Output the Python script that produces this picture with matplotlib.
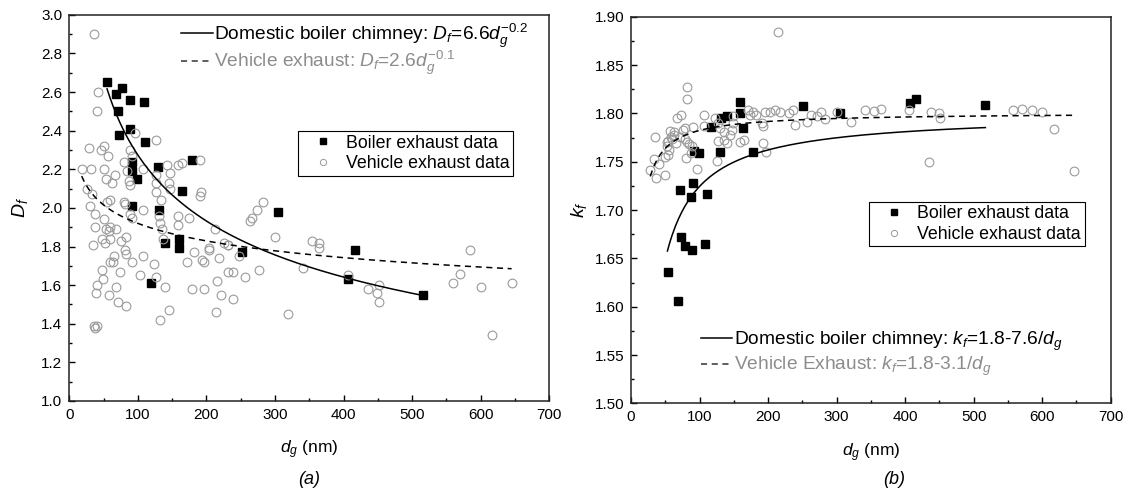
import numpy as np
import matplotlib
matplotlib.use('Agg')
import matplotlib.pyplot as plt
from matplotlib.lines import Line2D
from matplotlib.ticker import MultipleLocator, FormatStrFormatter

plt.rcParams['font.family'] = ['Liberation Sans', 'DejaVu Sans']
plt.rcParams['mathtext.fontset'] = 'custom'
plt.rcParams['mathtext.rm'] = 'Liberation Sans'
plt.rcParams['mathtext.it'] = 'Liberation Sans:italic'
plt.rcParams['mathtext.bf'] = 'Liberation Sans:bold'

GRAY_TEXT = '#8c8c8c'
CIRCLE_EDGE = '#9a9a9a'

# ---- (a) fractal dimension D_f vs d_g ----
boiler_d_a = [55, 68, 77, 88, 109, 71, 88, 73, 110, 92, 91, 99, 130, 179, 164, 92, 131, 305,
              160, 140, 160, 119, 252, 417, 407, 516]
boiler_D_a = [2.65, 2.59, 2.62, 2.56, 2.55, 2.50, 2.41, 2.38, 2.34, 2.24, 2.19, 2.15, 2.21, 2.25,
              2.09, 2.01, 1.99, 1.98, 1.84, 1.82, 1.79, 1.61, 1.77, 1.78, 1.63, 1.55]

vehicle_d_a = [36, 42, 41, 28, 50, 46, 57, 96, 126, 18, 32, 51, 67, 53, 62, 80, 84, 88, 91, 87,
               88, 108, 127, 143, 147, 159, 165, 191, 126, 146, 126, 134, 147, 192, 190, 26, 33,
               30, 37, 55, 59, 79, 81, 88, 91, 108, 131, 132, 135, 159, 159, 175, 50, 54, 58, 38,
               59, 68, 47, 59, 76, 83, 137, 212, 263, 267, 273, 283, 300, 226, 232, 203, 34, 52,
               81, 83, 65, 59, 63, 48, 74, 91, 107, 124, 49, 41, 39, 58, 68, 71, 83, 103, 127,
               140, 145, 132, 36, 40, 38, 171, 182, 204, 193, 196, 218, 215, 221, 196, 179, 214,
               231, 238, 239, 256, 248, 277, 231, 319, 341, 354, 364, 364, 407, 436, 448, 452,
               452, 559, 570, 585, 601, 616, 646]
vehicle_D_a = [2.90, 2.60, 2.50, 2.31, 2.32, 2.30, 2.27, 2.39, 2.35, 2.20, 2.20, 2.20, 2.17, 2.15,
               2.13, 2.24, 2.19, 2.30, 2.27, 2.14, 2.12, 2.20, 2.17, 2.22, 2.18, 2.22, 2.23, 2.25,
               2.13, 2.13, 2.08, 2.04, 2.10, 2.08, 2.06, 2.10, 2.07, 2.01, 1.97, 2.03, 2.04, 2.03,
               2.02, 1.97, 1.95, 1.99, 1.96, 1.92, 1.89, 1.96, 1.91, 1.95, 1.94, 1.89, 1.88, 1.90,
               1.90, 1.89, 1.84, 1.84, 1.83, 1.85, 1.84, 1.89, 1.93, 1.95, 1.99, 2.03, 1.85, 1.82,
               1.81, 1.79, 1.81, 1.82, 1.78, 1.76, 1.75, 1.72, 1.72, 1.68, 1.67, 1.72, 1.75, 1.71,
               1.63, 1.60, 1.56, 1.55, 1.59, 1.51, 1.49, 1.65, 1.64, 1.59, 1.47, 1.42, 1.39, 1.39,
               1.38, 1.72, 1.77, 1.78, 1.73, 1.72, 1.74, 1.62, 1.55, 1.58, 1.58, 1.46, 1.67, 1.67,
               1.53, 1.64, 1.75, 1.68, 1.81, 1.45, 1.69, 1.83, 1.82, 1.79, 1.65, 1.58, 1.56, 1.60,
               1.51, 1.61, 1.66, 1.78, 1.59, 1.34, 1.61]

# power-law fits D_f = a * d_g^b
fit_boiler_a = (6.71, -0.235, 55, 516)
fit_vehicle_a = (2.65, -0.070, 18, 645)

# ---- (b) fractal prefactor k_f vs d_g ----
boiler_d_b = [159, 159, 140, 131, 164, 116, 92, 99, 130, 178, 71, 91, 87, 111, 73, 78, 89, 108,
              54, 68, 416, 407, 517, 251, 305]
boiler_k_b = [1.8115, 1.801, 1.7976, 1.795, 1.785, 1.786, 1.761, 1.759, 1.760, 1.760, 1.721,
              1.728, 1.714, 1.717, 1.672, 1.663, 1.659, 1.665, 1.636, 1.606, 1.8146, 1.8104,
              1.8087, 1.8076, 1.8007]

vehicle_d_b = [214, 82, 81, 73, 67, 35, 28, 33, 37, 49, 41, 50, 54, 52, 56, 54, 58, 62, 57, 66,
               72, 76, 79, 79, 81, 84, 80, 89, 91, 96, 87, 107, 106, 123, 127, 130, 135, 127,
               135, 140, 144, 147, 149, 126, 149, 159, 165, 171, 174, 178, 183, 191, 192, 192,
               197, 195, 203, 210, 218, 230, 236, 239, 257, 262, 271, 277, 283, 300, 321, 342,
               354, 364, 406, 437, 449, 451, 435, 558, 570, 585, 600, 617, 647, 60, 63, 52]
vehicle_k_b = [1.884, 1.827, 1.815, 1.798, 1.795, 1.776, 1.742, 1.753, 1.733, 1.736, 1.748,
               1.755, 1.757, 1.766, 1.762, 1.772, 1.776, 1.781, 1.782, 1.769, 1.776, 1.783,
               1.785, 1.774, 1.771, 1.768, 1.754, 1.766, 1.786, 1.743, 1.759, 1.798, 1.787,
               1.795, 1.790, 1.785, 1.781, 1.772, 1.773, 1.769, 1.778, 1.783, 1.790, 1.751,
               1.797, 1.771, 1.773, 1.804, 1.798, 1.802, 1.798, 1.790, 1.787, 1.769, 1.760,
               1.802, 1.802, 1.804, 1.802, 1.800, 1.804, 1.788, 1.791, 1.798, 1.797, 1.802,
               1.794, 1.802, 1.791, 1.804, 1.803, 1.805, 1.804, 1.802, 1.801, 1.795, 1.750,
               1.804, 1.805, 1.804, 1.802, 1.784, 1.740, 1.774, 1.778, 1.770]

# fits k_f = a - c / d_g
fit_boiler_b = (1.800, 7.54, 53, 517)
fit_vehicle_b = (1.801, 1.85, 28, 645)

TICK_FS = 11
MARK_LEG_FS = 12.8
LINE_LEG_FS = 13.8


def style_axes(ax, ylim, ymajor, yminor, yfmt):
    ax.set_xlim(0, 700)
    ax.set_ylim(*ylim)
    ax.xaxis.set_major_locator(MultipleLocator(100))
    ax.xaxis.set_minor_locator(MultipleLocator(50))
    ax.yaxis.set_major_locator(MultipleLocator(ymajor))
    ax.yaxis.set_minor_locator(MultipleLocator(yminor))
    ax.yaxis.set_major_formatter(FormatStrFormatter(yfmt))
    ax.tick_params(which='both', direction='in', top=False, right=False, width=1.0,
                   labelsize=TICK_FS)
    ax.tick_params(which='major', length=4.5)
    ax.tick_params(which='minor', length=2.5)
    ax.tick_params(axis='x', pad=5)
    ax.tick_params(axis='y', pad=5)
    for sp in ax.spines.values():
        sp.set_linewidth(1.1)
        sp.set_color('#222222')


def scatter_sets(ax, bd, by, vd, vy):
    ax.plot(bd, by, 's', color='black', markersize=5.8, zorder=3)
    ax.plot(vd, vy, 'o', markerfacecolor='none', markeredgecolor=CIRCLE_EDGE,
            markeredgewidth=0.8, markersize=6.3, zorder=4)


def marker_legend(ax, anchor):
    handles = [Line2D([], [], ls='none', marker='s', color='black', markersize=5),
               Line2D([], [], ls='none', marker='o', markerfacecolor='none',
                      markeredgecolor=CIRCLE_EDGE, markeredgewidth=0.7, markersize=4.5)]
    leg = ax.legend(handles, ['Boiler exhaust data', 'Vehicle exhaust data'],
                    loc='upper left', bbox_to_anchor=anchor, borderaxespad=0,
                    fontsize=MARK_LEG_FS, frameon=True, fancybox=False, framealpha=1,
                    edgecolor='black', borderpad=0.2, handlelength=2.4,
                    handletextpad=0.1, labelspacing=0.2)
    leg.get_frame().set_linewidth(0.8)
    return leg


def line_legend(ax, labels, anchor, spacing):
    handles = [Line2D([], [], color='black', lw=1.1),
               Line2D([], [], color='#333333', lw=1.1, ls=(0, (4, 3)))]
    leg = ax.legend(handles, labels, loc='upper left', bbox_to_anchor=anchor,
                    borderaxespad=0, borderpad=0, frameon=False, fontsize=LINE_LEG_FS,
                    handlelength=1.65, handletextpad=0.08, labelspacing=spacing)
    leg.get_texts()[1].set_color(GRAY_TEXT)
    return leg


fig = plt.figure(figsize=(11.31, 4.95), dpi=100)
ax1 = fig.add_axes([0.0613, 0.190, 0.4244, 0.780])
ax2 = fig.add_axes([0.558, 0.185, 0.4241, 0.781])

# panel (a)
style_axes(ax1, (1.0, 3.0), 0.2, 0.1, '%.1f')
scatter_sets(ax1, boiler_d_a, boiler_D_a, vehicle_d_a, vehicle_D_a)
a, b, x0, x1 = fit_boiler_a
xs = np.linspace(x0, x1, 200)
ax1.plot(xs, a * xs ** b, color='black', lw=1.1, zorder=5)
a, b, x0, x1 = fit_vehicle_a
xs = np.linspace(x0, x1, 200)
ax1.plot(xs, a * xs ** b, color='black', lw=1.1, ls=(0, (4, 3)), zorder=5)
ax1.set_ylabel('$D_f$', fontsize=14, labelpad=8)
ax1.set_xlabel('$d_g$ (nm)', fontsize=12.5, labelpad=12)
leg1 = marker_legend(ax1, (0.476, 0.699))
ax1.add_artist(leg1)
line_legend(ax1, ['Domestic boiler chimney: $D_f$=6.6$d_g^{-0.2}$',
                  'Vehicle exhaust: $D_f$=2.6$d_g^{-0.1}$'], (0.233, 0.982), -0.06)

# panel (b)
style_axes(ax2, (1.50, 1.90), 0.05, 0.025, '%.2f')
scatter_sets(ax2, boiler_d_b, boiler_k_b, vehicle_d_b, vehicle_k_b)
a, c, x0, x1 = fit_boiler_b
xs = np.linspace(x0, x1, 200)
ax2.plot(xs, a - c / xs, color='black', lw=1.1, zorder=5)
a, c, x0, x1 = fit_vehicle_b
xs = np.linspace(x0, x1, 200)
ax2.plot(xs, a - c / xs, color='black', lw=1.1, ls=(0, (4, 3)), zorder=5)
ax2.set_ylabel('$k_f$', fontsize=14, labelpad=4)
ax2.set_xlabel('$d_g$ (nm)', fontsize=12.5, labelpad=12)
leg2 = marker_legend(ax2, (0.497, 0.5215))
ax2.add_artist(leg2)
line_legend(ax2, ['Domestic boiler chimney: $k_f$=1.8-7.6/$d_g$',
                  'Vehicle Exhaust: $k_f$=1.8-3.1/$d_g$'], (0.145, 0.19), 0.1)

fig.text(309 / 1131, 1 - 479 / 495, '(a)', fontsize=13, style='italic', ha='center', va='center')
fig.text(894 / 1131, 1 - 480 / 495, '(b)', fontsize=13, style='italic', ha='center', va='center')

fig.savefig('out.png', dpi=100, facecolor='white')
